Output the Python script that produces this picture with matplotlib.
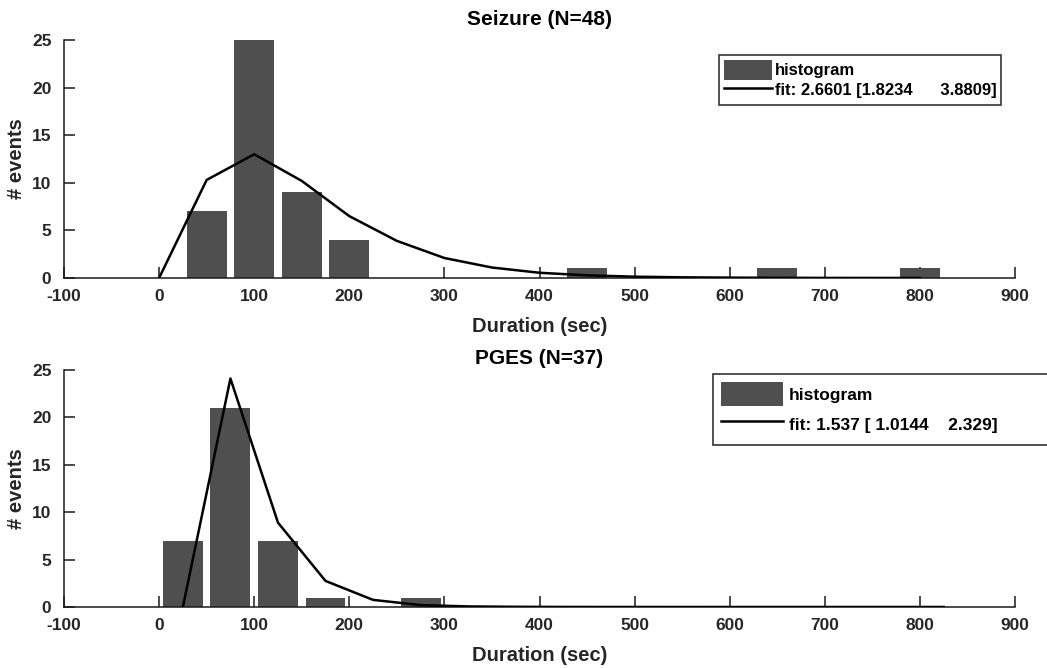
import matplotlib
matplotlib.use("Agg")
import matplotlib.pyplot as plt
from matplotlib.patches import Patch
from matplotlib.lines import Line2D

# ---- data ----
seizure_centers = [50, 100, 150, 200, 450, 650, 800]
seizure_counts = [7, 25, 9, 4, 1, 1, 1]
seizure_fit_x = [0, 50, 100, 150, 200, 250, 300, 350, 400, 450, 500, 550, 600, 650, 700, 750, 800]
seizure_fit_y = [0, 10.3, 13.0, 10.2, 6.5, 3.9, 2.1, 1.1, 0.55, 0.28, 0.14, 0.07, 0.04, 0.02, 0.01, 0.006, 0.003]
seizure_title = "Seizure (N=48)"
seizure_fit_label = "fit: 2.6601 [1.8234      3.8809]"

pges_centers = [25, 75, 125, 175, 275]
pges_counts = [7, 21, 7, 1, 1]
pges_fit_x = [25, 75, 125, 175, 225, 275, 325, 375, 425, 475, 525, 575, 625, 675, 725, 775, 825]
pges_fit_y = [0, 24.1, 8.9, 2.75, 0.75, 0.2, 0.06, 0.02, 0.006, 0.002, 0.001, 0, 0, 0, 0, 0, 0]
pges_title = "PGES (N=37)"
pges_fit_label = "fit: 1.537 [ 1.0144    2.329]"

xticks = [-100, 0, 100, 200, 300, 400, 500, 600, 700, 800, 900]
yticks = [0, 5, 10, 15, 20, 25]
bin_width = 50

# ---- style ----
plt.rcParams['font.family'] = ['Liberation Sans', 'DejaVu Sans']
plt.rcParams['font.weight'] = 'bold'
plt.rcParams['axes.unicode_minus'] = False
BAR = '#4f4f4f'
TXT = '#262626'

fig = plt.figure(figsize=(10.47, 6.68), dpi=100)
W, H = 1047, 668
ax1 = fig.add_axes([64 / W, 1 - 278 / H, (1015 - 64) / W, (278 - 40) / H])
ax2 = fig.add_axes([64 / W, 1 - 607 / H, (1015 - 64) / W, (607 - 370) / H])


def style(ax, title, title_pad):
    ax.set_xlim(-100, 900)
    ax.set_ylim(0, 25)
    ax.set_xticks(xticks)
    ax.set_yticks(yticks)
    for s in ['top', 'right']:
        ax.spines[s].set_visible(False)
    for s in ['left', 'bottom']:
        ax.spines[s].set_linewidth(1.1)
        ax.spines[s].set_color('#1a1a1a')
    ax.tick_params(direction='in', length=8, width=1.1, labelsize=12.5,
                   colors='#1a1a1a', labelcolor=TXT)
    ax.tick_params(axis='x', pad=8)
    ax.tick_params(axis='y', pad=9)
    for lab in ax.get_xticklabels() + ax.get_yticklabels():
        lab.set_fontweight('bold')
    ax.set_xlabel("Duration (sec)", fontsize=14.5, fontweight='bold', color=TXT, labelpad=9)
    ax.set_ylabel("# events", fontsize=14.5, fontweight='bold', color=TXT, labelpad=4)
    ax.set_title(title, fontsize=15, fontweight='bold', color='black', pad=title_pad)


ax1.bar(seizure_centers, seizure_counts, width=0.84 * bin_width, color=BAR, linewidth=0, zorder=2)
ax1.plot(seizure_fit_x, seizure_fit_y, color='black', linewidth=1.8, zorder=3)
style(ax1, seizure_title, 11)

ax2.bar(pges_centers, pges_counts, width=0.84 * bin_width, color=BAR, linewidth=0, zorder=2)
ax2.plot(pges_fit_x, pges_fit_y, color='black', linewidth=1.8, zorder=3)
style(ax2, pges_title, 4)

# legends
h1 = [Patch(facecolor=BAR, edgecolor='none'), Line2D([], [], color='black', linewidth=1.8)]
leg1 = ax1.legend(h1, ["histogram", seizure_fit_label], loc='upper left',
                  bbox_to_anchor=(719 / W, 1 - 107 / H, 282 / W, 52 / H),
                  bbox_transform=fig.transFigure, mode='expand',
                  fontsize=12, frameon=True, fancybox=False, edgecolor='black',
                  handlelength=2.85, handleheight=1.45, handletextpad=0.2, borderpad=0.3,
                  labelspacing=0.0, borderaxespad=0)
leg1.get_frame().set_linewidth(1.2)

h2 = [Patch(facecolor=BAR, edgecolor='none'), Line2D([], [], color='black', linewidth=1.8)]
leg2 = ax2.legend(h2, ["histogram", pges_fit_label], loc='upper left',
                  bbox_to_anchor=(713 / W, 1 - 443 / H, 400 / W, 69 / H),
                  bbox_transform=fig.transFigure, mode='expand',
                  fontsize=12.5, frameon=True, fancybox=False, edgecolor='black',
                  handlelength=3.6, handleheight=1.8, handletextpad=0.3, borderpad=0.45,
                  labelspacing=0.35, borderaxespad=0)
leg2.get_frame().set_linewidth(1.2)

fig.savefig("out.png", dpi=100, facecolor='white')
